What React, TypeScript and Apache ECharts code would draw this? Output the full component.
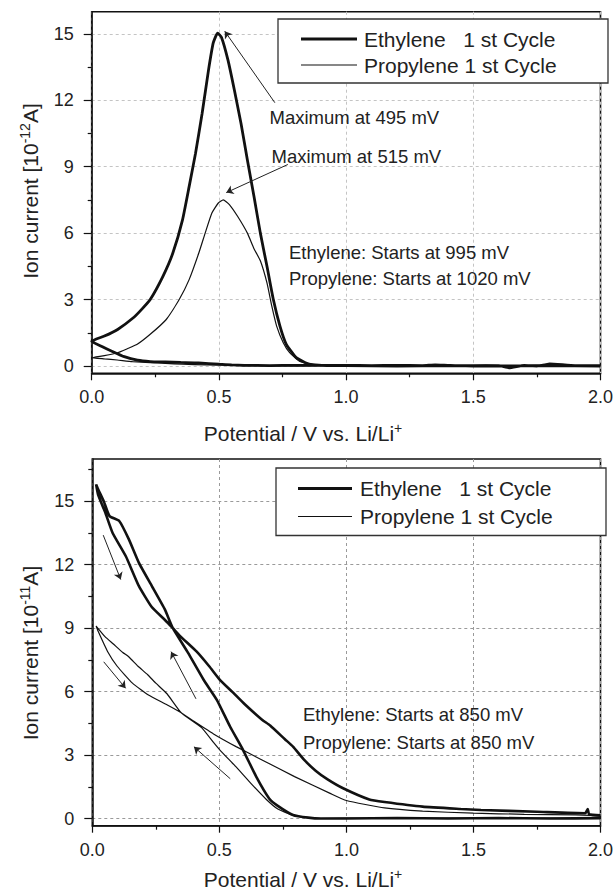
import { useEffect, useRef } from 'react';
import * as echarts from 'echarts';

// ---------- data ----------
const xTickValues = [0, 0.5, 1.0, 1.5, 2.0];
const yMajorTicks = [0, 3, 6, 9, 12, 15];
const yMinorTicksTop = [1.5, 4.5, 7.5, 10.5, 13.5];
const yMinorTicksBottom = [1.5, 4.5, 7.5, 10.5, 13.5, 16.5];

const seriesNames = ['Ethylene\u00a0\u00a0\u00a01 st Cycle', 'Propylene 1 st Cycle'];

// top panel, ion current [1e-12 A] vs potential [V]
const topEthylene: [number, number][] = [
  [2.0, 0.02], [1.9, 0.02], [1.8, 0.1], [1.78, 0.05], [1.75, 0.0], [1.7, 0.03], [1.64, -0.08], [1.6, 0.02],
  [1.5, 0.0], [1.4, 0.03], [1.35, 0.05], [1.3, 0.02], [1.2, 0.03], [1.1, 0.02], [1.0, 0.03], [0.9, 0.03],
  [0.8, 0.03], [0.7, 0.02], [0.6, 0.03], [0.55, 0.05], [0.5, 0.08], [0.42, 0.14], [0.35, 0.16], [0.29, 0.18],
  [0.23, 0.2], [0.18, 0.26], [0.128, 0.42], [0.077, 0.68], [0.04, 0.88], [0, 1.12],
  [0.05, 1.35], [0.102, 1.65], [0.166, 2.2], [0.2, 2.6], [0.23, 3.0], [0.28, 4.05], [0.319, 5.1], [0.357, 6.6],
  [0.383, 8.1], [0.408, 9.6], [0.434, 11.4], [0.459, 13.35], [0.478, 14.6], [0.495, 15.03], [0.51, 14.85],
  [0.536, 13.8], [0.561, 12.45], [0.587, 10.95], [0.612, 9.3], [0.638, 7.65], [0.663, 6.0], [0.689, 4.5],
  [0.714, 3.0], [0.74, 1.8], [0.765, 0.98], [0.804, 0.38], [0.855, 0.08], [0.93, 0.02], [1.0, 0.02],
  [1.2, 0.0], [1.4, 0.02], [1.6, 0.0], [1.8, 0.02], [2.0, 0.0]
];
const topPropylene: [number, number][] = [
  [2.0, 0.0], [1.8, 0.03], [1.6, 0.0], [1.4, 0.02], [1.2, 0.0], [1.0, 0.02], [0.8, 0.0], [0.6, 0.02],
  [0.45, 0.05], [0.357, 0.08], [0.29, 0.12], [0.23, 0.15], [0.16, 0.2], [0.1, 0.27], [0.05, 0.32], [0, 0.375],
  [0.05, 0.47], [0.102, 0.6], [0.14, 0.78], [0.179, 0.98], [0.23, 1.43], [0.293, 2.1], [0.344, 3.0],
  [0.383, 3.9], [0.421, 5.1], [0.446, 6.0], [0.472, 6.9], [0.497, 7.35], [0.517, 7.5], [0.542, 7.28],
  [0.574, 6.75], [0.612, 6.0], [0.638, 5.3], [0.663, 4.75], [0.689, 3.75], [0.708, 2.7], [0.727, 1.8],
  [0.753, 1.05], [0.778, 0.6], [0.816, 0.22], [0.867, 0.08], [0.93, 0.02], [1.02, 0.0], [1.2, 0.02],
  [1.5, 0.0], [1.8, 0.02], [2.0, 0.0]
];

// bottom panel, ion current [1e-11 A] vs potential [V]
const bottomEthylene: [number, number][] = [
  [2.0, 0.02], [1.8, 0.0], [1.6, 0.02], [1.4, 0.0], [1.2, 0.02], [1.0, 0.0], [0.9, 0.0], [0.85, 0.04],
  [0.79, 0.17], [0.73, 0.6], [0.696, 0.95], [0.645, 1.98], [0.593, 3.25], [0.542, 4.35], [0.49, 5.61],
  [0.438, 6.56], [0.377, 7.83], [0.317, 9.0], [0.285, 9.9], [0.234, 11.0], [0.183, 12.1], [0.144, 13.2],
  [0.106, 14.07], [0.068, 14.3], [0.045, 15.0], [0.023, 15.57], [0.015, 15.8], [0.023, 15.3], [0.05, 14.5],
  [0.08, 13.5], [0.132, 12.4], [0.183, 11.0], [0.234, 10.0], [0.285, 9.4], [0.317, 9.0], [0.348, 8.6],
  [0.41, 7.9], [0.46, 7.2], [0.502, 6.56], [0.55, 6.0], [0.6, 5.4], [0.668, 4.67], [0.7, 4.4], [0.758, 3.75],
  [0.79, 3.4], [0.834, 2.77], [0.88, 2.25], [0.926, 1.85], [0.987, 1.43], [1.09, 0.9], [1.15, 0.78],
  [1.3, 0.56], [1.45, 0.45], [1.53, 0.4], [1.75, 0.32], [1.94, 0.25], [1.95, 0.45], [1.955, 0.2], [2.0, 0.15]
];
const bottomPropylene: [number, number][] = [
  [2.0, 0.0], [1.8, 0.02], [1.6, 0.0], [1.4, 0.02], [1.2, 0.0], [1.0, 0.02], [0.9, 0.0], [0.85, 0.04],
  [0.79, 0.15], [0.73, 0.45], [0.685, 0.9], [0.625, 1.65], [0.565, 2.45], [0.505, 3.2], [0.477, 3.6],
  [0.43, 4.3], [0.35, 5.0], [0.294, 5.9], [0.25, 6.4], [0.218, 6.8], [0.18, 7.2], [0.143, 7.65], [0.12, 7.85],
  [0.083, 8.25], [0.05, 8.6], [0.015, 9.1], [0.023, 8.85], [0.06, 7.9], [0.098, 7.2], [0.158, 6.4],
  [0.221, 5.84], [0.29, 5.4], [0.35, 5.0], [0.4, 4.6], [0.477, 4.0], [0.566, 3.4], [0.668, 2.77],
  [0.796, 1.98], [0.936, 1.19], [1.0, 0.85], [1.15, 0.5], [1.3, 0.35], [1.5, 0.25], [1.7, 0.2], [1.9, 0.17],
  [1.96, 0.15], [2.0, 0.12]
];

// annotation arrows (data coordinates: [from], [to] with the head at "to")
const topArrows: [number, number][][] = [
  [[0.72, 11.89], [0.523, 15.12]],
  [[0.771, 9.1], [0.529, 7.83]]
];
const bottomArrows: [number, number][][] = [
  [[0.043, 13.4], [0.112, 11.3]],
  [[0.408, 5.66], [0.31, 7.89]],
  [[0.045, 7.41], [0.131, 6.16]],
  [[0.543, 1.88], [0.4, 3.39]]
];

const topNotes = ['Maximum at 495 mV', 'Maximum at 515 mV', 'Ethylene: Starts at 995 mV', 'Propylene: Starts at 1020 mV'];
const bottomNotes = ['Ethylene: Starts at 850 mV', 'Propylene: Starts at 850 mV'];

// ---------- styling ----------
const FONT = "'Liberation Sans', Arial, Helvetica, sans-serif";
const INK = '#111';

function buildXAxis(gridIndex: number, gridColor: string) {
  return {
    gridIndex,
    type: 'value',
    min: 0,
    max: 2,
    interval: 0.5,
    axisLine: { onZero: false, lineStyle: { color: INK, width: 1.5 } },
    axisTick: { length: 7, lineStyle: { color: INK, width: 1.2 } },
    minorTick: { show: true, splitNumber: 2, length: 4, lineStyle: { color: INK, width: 1.2 } },
    axisLabel: {
      margin: 15, fontSize: 18, color: '#222', fontFamily: FONT,
      formatter: (v: number) => v.toFixed(1),
      customValues: xTickValues
    },
    splitLine: { show: true, lineStyle: { color: gridColor, type: [3, 3], width: 1 } }
  };
}

function buildYAxes(gridIndex: number, min: number, max: number, minor: number[], gridColor: string) {
  return [
    {
      gridIndex,
      type: 'value',
      min,
      max,
      axisLine: { show: true, onZero: false, lineStyle: { color: INK, width: 1.5 } },
      axisTick: { show: true, length: 8, customValues: yMajorTicks, lineStyle: { color: INK, width: 1.2 } },
      axisLabel: { margin: 18, fontSize: 18, color: '#222', fontFamily: FONT, customValues: yMajorTicks },
      splitLine: { show: true, lineStyle: { color: gridColor, type: [3, 3], width: 1 } },
      minorTick: { show: false }
    },
    {
      gridIndex,
      type: 'value',
      position: 'left',
      min,
      max,
      axisLine: { show: false, onZero: false },
      axisTick: { show: true, length: 4, customValues: minor, lineStyle: { color: INK, width: 1.2 } },
      axisLabel: { show: false },
      splitLine: { show: false }
    }
  ];
}

function arrowMarkLine(arrows: [number, number][][]) {
  return {
    silent: true,
    symbol: ['none', 'arrow'],
    symbolSize: 7,
    label: { show: false },
    emphasis: { disabled: true },
    lineStyle: { color: '#222', width: 1, type: 'solid' },
    data: arrows.map(([a, b]) => [{ coord: a }, { coord: b }])
  };
}

function lineSeries(name: string, data: [number, number][], axisIdx: number, yAxisIdx: number, width: number, arrows?: [number, number][][]) {
  const s: any = {
    name,
    type: 'line',
    xAxisIndex: axisIdx,
    yAxisIndex: yAxisIdx,
    data,
    showSymbol: false,
    symbol: 'none',
    smooth: 0.15,
    lineStyle: { color: INK, width },
    emphasis: { disabled: true },
    silent: true,
    z: 3
  };
  if (arrows) s.markLine = arrowMarkLine(arrows);
  return s;
}

function legendBox(x: number, y: number, w: number, h: number, row1: number, row2: number, lineX1: number, lineX2: number, textX: number) {
  return [
    { type: 'rect', z: 50, shape: { x, y, width: w, height: h }, style: { fill: '#fff', stroke: '#333', lineWidth: 1.3 } },
    { type: 'line', z: 51, shape: { x1: lineX1, y1: row1, x2: lineX2, y2: row1 }, style: { stroke: INK, lineWidth: 3 } },
    { type: 'line', z: 51, shape: { x1: lineX1, y1: row2, x2: lineX2, y2: row2 }, style: { stroke: INK, lineWidth: 1.2 } },
    { type: 'text', z: 51, x: textX, y: row1, style: { text: seriesNames[0], fontSize: 21, fontFamily: FONT, fill: '#222', align: 'left', verticalAlign: 'middle' } },
    { type: 'text', z: 51, x: textX, y: row2, style: { text: seriesNames[1], fontSize: 21, fontFamily: FONT, fill: '#222', align: 'left', verticalAlign: 'middle' } }
  ];
}

function note(text: string, x: number, y: number) {
  return { type: 'text', z: 40, x, y, style: { text, fontSize: 18.5, fontFamily: FONT, fill: '#222', align: 'left', verticalAlign: 'middle' } };
}

const titleRich = {
  a: { fontSize: 21, fontFamily: FONT, fill: '#222', color: '#222' },
  s: { fontSize: 14, fontFamily: FONT, fill: '#222', color: '#222', padding: [0, 0, 11, 0] }
};

function xTitle(y: number) {
  return {
    type: 'text', z: 40, x: 303, y,
    style: { text: '{a|Potential / V vs. Li/Li}{s|+}', rich: titleRich, align: 'center', verticalAlign: 'middle' }
  };
}
function yTitle(y: number, exp: string) {
  return {
    type: 'text', z: 40, x: 30, y, rotation: Math.PI / 2,
    style: { text: `{a|Ion current [10}{s|${exp}}{a|A]}`, rich: titleRich, align: 'center', verticalAlign: 'middle' }
  };
}

function buildOption() {
  const yTop = buildYAxes(0, -0.33, 16, yMinorTicksTop, '#c4c4c4');
  const yBottom = buildYAxes(1, -0.34, 17, yMinorTicksBottom, '#9a9a9a');
  return {
    animation: false,
    backgroundColor: '#fff',
    textStyle: { fontFamily: FONT },
    grid: [
      { left: 91.7, top: 11.7, right: 1.7, height: 361.6, show: true, borderColor: INK, borderWidth: 1.6, backgroundColor: 'transparent' },
      { left: 92.3, top: 459, right: 1.7, height: 366.7, show: true, borderColor: INK, borderWidth: 1.6, backgroundColor: 'transparent' }
    ],
    xAxis: [buildXAxis(0, '#c4c4c4'), buildXAxis(1, '#9a9a9a')],
    yAxis: [...yTop, ...yBottom],
    series: [
      lineSeries(seriesNames[0], topEthylene, 0, 0, 2.8, topArrows),
      lineSeries(seriesNames[1], topPropylene, 0, 0, 1.2),
      lineSeries(seriesNames[0], bottomEthylene, 1, 2, 2.6, bottomArrows),
      lineSeries(seriesNames[1], bottomPropylene, 1, 2, 1.2)
    ],
    graphic: [
      ...legendBox(278, 19, 330, 64, 39, 65, 301, 357, 364),
      ...legendBox(276, 468, 330, 67.5, 488.5, 516.5, 298, 352, 360),
      note(topNotes[0], 269.5, 117),
      note(topNotes[1], 271.5, 156),
      note(topNotes[2], 289, 252.5),
      note(topNotes[3], 289, 278.5),
      note(bottomNotes[0], 303, 714),
      note(bottomNotes[1], 303, 742),
      xTitle(433),
      xTitle(879),
      yTitle(191, '-12'),
      yTitle(653, '-11')
    ]
  };
}

export default function App() {
  const ref = useRef<HTMLDivElement>(null);
  useEffect(() => {
    if (!ref.current) return;
    const chart = echarts.init(ref.current, null, { renderer: 'svg' });
    chart.setOption(buildOption() as any);
    return () => chart.dispose();
  }, []);
  return (
    <div
      ref={ref}
      style={{ position: 'fixed', left: 0, top: 0, width: 616, height: 890, background: '#fff' }}
    />
  );
}
